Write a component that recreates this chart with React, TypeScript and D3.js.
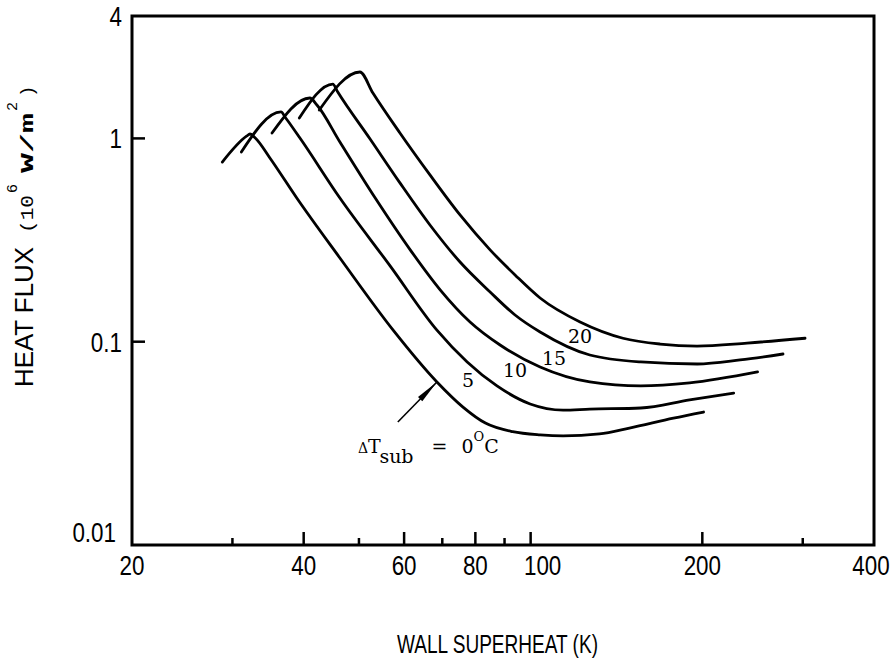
import React from 'react';
import * as d3 from 'd3';

// subcooling levels of the five boiling curves (K)
const subcooling = [0, 5, 10, 15, 20];

// wall superheat (K) and heat flux (10^6 W/m2)
const superheat0 = [28.8, 31.8, 32.2, 32.9, 34.9, 38.9, 46.3, 57.4, 68.5, 76.1, 83.3, 93.0, 103.9, 114, 132, 149, 178, 201];
const flux0 = [0.765, 1.028, 1.051, 1.004, 0.801, 0.509, 0.258, 0.114, 0.0634, 0.0477, 0.0398, 0.0361, 0.0348, 0.0344, 0.0352, 0.0376, 0.0421, 0.0451];

const superheat5 = [31.1, 36.5, 37.2, 39.4, 46.3, 56.7, 68.5, 77.4, 87.3, 99.8, 114, 127, 156, 190, 227];
const flux5 = [0.857, 1.349, 1.26, 1.004, 0.509, 0.236, 0.114, 0.0795, 0.0606, 0.0494, 0.0461, 0.0466, 0.0472, 0.0517, 0.0559];

const superheat10 = [35.2, 41.0, 42.2, 46.3, 53.4, 61.5, 69.4, 78.3, 88.4, 103.9, 127, 156, 190, 250];
const flux10 = [1.063, 1.58, 1.46, 0.96, 0.509, 0.283, 0.18, 0.125, 0.0963, 0.0751, 0.0634, 0.0606, 0.0627, 0.071];

const superheat15 = [39.3, 45.0, 45.9, 52.3, 59.0, 66.6, 75.2, 84.9, 93.9, 103.9, 127, 156, 196, 233, 277];
const flux15 = [1.26, 1.851, 1.691, 0.993, 0.604, 0.375, 0.2466, 0.1756, 0.1353, 0.1116, 0.086, 0.0795, 0.0777, 0.0813, 0.087];

const superheat20 = [42.6, 50.2, 52.9, 59.0, 66.6, 75.2, 84.9, 93.9, 103.9, 122.1, 145.2, 168.6, 195.8, 239.6, 302.8];
const flux20 = [1.379, 2.121, 1.672, 1.063, 0.661, 0.42, 0.283, 0.213, 0.164, 0.125, 0.104, 0.0974, 0.0952, 0.0985, 0.104];

// axis ticks
const xTickLabels = [20, 40, 60, 80, 100, 200, 400];
const xMajorTicks = [40, 60, 80, 100, 200];
const xMinorTicks = [30, 50, 70, 90, 300];
const yTickLabels = ['4', '1', '0.1', '0.01'];
const yTickValues = [4, 1, 0.1, 0.01];
const yTicks = [1, 0.1];

// curve labels (centre / baseline in data units)
const curveLabels = ['5', '10', '15', '20'];
const labelSuperheat = [77.7, 93.9, 109.9, 122.1];
const labelFlux = [0.0599, 0.067, 0.0768, 0.0985];

// arrow to the 0 C curve and its label
const arrowSuperheat = [58.5, 68.5];
const arrowFlux = [0.0403, 0.0634];
const noteSuperheat = 49.8;
const noteFlux = 0.0284;

const W = 896;
const H = 661;
const margin = { left: 132, right: 22, top: 16, bottom: 116 };

const sans = "'Liberation Sans', Arial, sans-serif";
const serif = "'DejaVu Serif', 'Liberation Serif', serif";
const mono = "'Liberation Mono', 'DejaVu Sans Mono', monospace";

export default function App() {
  const x = d3.scaleLog().domain([20, 400]).range([margin.left, W - margin.right]);
  const y = d3.scaleLog().domain([0.01, 4]).range([H - margin.bottom, margin.top]);

  const series = [
    d3.zip(superheat0, flux0),
    d3.zip(superheat5, flux5),
    d3.zip(superheat10, flux10),
    d3.zip(superheat15, flux15),
    d3.zip(superheat20, flux20),
  ];

  const line = d3.line<number[]>()
    .x(d => x(d[0]))
    .y(d => y(d[1]))
    .curve(d3.curveMonotoneX);

  const x0 = x(20), x1 = x(400), y0 = y(0.01), y1 = y(4);

  // arrow geometry
  const ax0 = x(arrowSuperheat[0]), ay0 = y(arrowFlux[0]);
  const ax1 = x(arrowSuperheat[1]), ay1 = y(arrowFlux[1]);
  const len = Math.hypot(ax1 - ax0, ay1 - ay0);
  const ux = (ax1 - ax0) / len, uy = (ay1 - ay0) / len;
  const hb = 24, hw = 3;
  const head = [
    [ax1, ay1],
    [ax1 - ux * hb - uy * hw, ay1 - uy * hb + ux * hw],
    [ax1 - ux * hb + uy * hw, ay1 - uy * hb - ux * hw],
  ].map(p => p.join(',')).join(' ');

  return (
    <svg width={W} height={H} style={{ position: 'absolute', left: 0, top: 0, background: '#fff' }}>
      {/* frame */}
      <rect x={x0} y={y1} width={x1 - x0} height={y0 - y1} fill="none" stroke="#000" strokeWidth={3} />

      {/* x ticks */}
      {xMajorTicks.map(v => (
        <line key={'M' + v} x1={x(v)} x2={x(v)} y1={y0} y2={y0 - 13} stroke="#000" strokeWidth={2.5} />
      ))}
      {xMinorTicks.map(v => (
        <line key={'m' + v} x1={x(v)} x2={x(v)} y1={y0} y2={y0 - 7} stroke="#000" strokeWidth={2.5} />
      ))}
      {xTickLabels.map(v => (
        <text key={'xl' + v} textAnchor="middle" fontFamily={sans} fontSize={28}
          transform={`translate(${x(v) + (v === 100 ? 12 : v === 400 ? -3 : 0)},${y0 + 30}) scale(0.8,1)`}>
          {v}
        </text>
      ))}

      {/* y ticks */}
      {yTicks.map(v => (
        <line key={'yt' + v} x1={x0} x2={x0 + 13} y1={y(v)} y2={y(v)} stroke="#000" strokeWidth={2.5} />
      ))}
      {yTickLabels.map((t, i) => (
        <text key={'yl' + t} textAnchor="end" fontFamily={sans} fontSize={28}
          transform={`translate(${i === 3 ? 116 : 122},${y(yTickValues[i]) + (i === 3 ? -3 : 10)}) scale(0.8,1)`}>
          {t}
        </text>
      ))}

      {/* curves */}
      {series.map((s, i) => (
        <path key={'c' + subcooling[i]} d={line(s) || ''} fill="none" stroke="#000" strokeWidth={2.8}
          strokeLinejoin="round" strokeLinecap="round" />
      ))}

      {/* curve labels */}
      {curveLabels.map((t, i) => (
        <text key={'cl' + t} x={x(labelSuperheat[i])} y={y(labelFlux[i])} textAnchor="middle"
          fontFamily={serif} fontSize={19}>
          {t}
        </text>
      ))}

      {/* arrow */}
      <line x1={ax0} y1={ay0} x2={ax1} y2={ay1} stroke="#000" strokeWidth={1.6} />
      <polygon points={head} fill="#000" />

      <text x={x(noteSuperheat)} y={y(noteFlux)} fontFamily={serif} fontSize={19}>
        <tspan fontSize={14}>Δ</tspan>
        <tspan>T</tspan>
        <tspan dy={10}>sub</tspan>
        <tspan dy={-10} dx={18}>=</tspan>
        <tspan dx={14}>0</tspan>
        <tspan dy={-12} fontSize={13}>O</tspan>
        <tspan dy={12}>C</tspan>
      </text>

      {/* x axis title */}
      <text x={397} y={653} fontFamily={sans} fontSize={25} textLength={201} lengthAdjust="spacingAndGlyphs">
        WALL SUPERHEAT (K)
      </text>

      {/* y axis title */}
      <g transform="translate(33,0) rotate(-90)">
        <text x={-387} y={0} fontFamily={sans} fontSize={25} textLength={140} lengthAdjust="spacingAndGlyphs">
          HEAT FLUX
        </text>
        <text x={-233} y={0} fontFamily={mono} fontSize={19} textLength={38} lengthAdjust="spacingAndGlyphs">(10</text>
        <text x={-193} y={-16} fontFamily={mono} fontSize={15}>6</text>
        <text x={-173} y={0} fontFamily={mono} fontSize={19} fontWeight="bold" textLength={60}
          lengthAdjust="spacingAndGlyphs">W/m</text>
        <text x={-111} y={-16} fontFamily={mono} fontSize={15}>2</text>
        <text x={-97} y={0} fontFamily={mono} fontSize={19}>)</text>
      </g>
    </svg>
  );
}
